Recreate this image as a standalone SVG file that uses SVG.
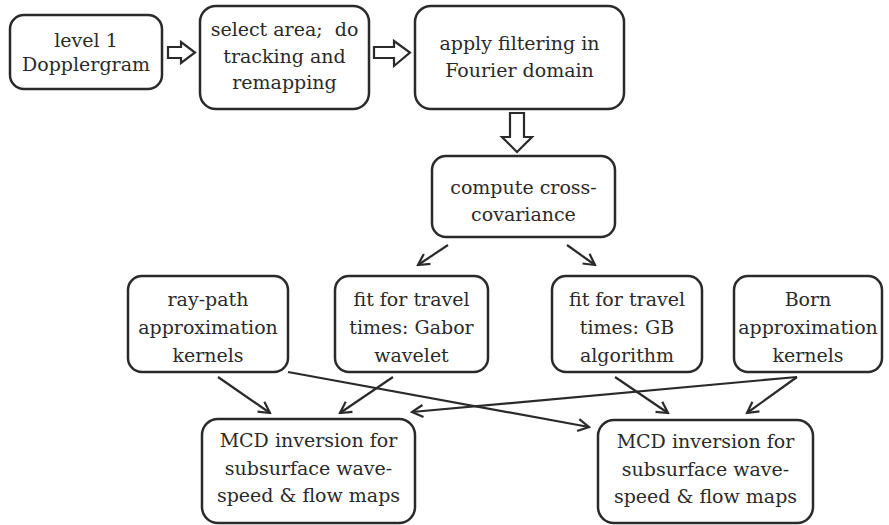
<svg xmlns="http://www.w3.org/2000/svg" width="889" height="525" viewBox="0 0 889 525">
<style>
.box{fill:#fff;stroke:#2a2a2a;stroke-width:2.5}
text{font-family:'DejaVu Serif',serif;font-size:19px;fill:#2a2a2a;text-anchor:middle}
.ln{fill:none;stroke:#2a2a2a;stroke-width:2.2}
.blk{fill:#fff;stroke:#2a2a2a;stroke-width:2.2;stroke-linejoin:miter}
</style>
<defs>
<marker id="v" viewBox="0 0 14 14" refX="12" refY="7" markerWidth="14" markerHeight="14" markerUnits="userSpaceOnUse" orient="auto">
<path d="M1,1 L12,7 L1,13" fill="none" stroke="#2a2a2a" stroke-width="2.2"/>
</marker>
</defs>
<rect width="889" height="525" fill="#fff"/>
<g id="n1"><rect class="box" x="10" y="15" width="152" height="74" rx="14"/>
<text x="86" y="47">level 1</text><text x="86" y="71">Dopplergram</text></g>
<g id="n2"><rect class="box" x="200" y="6" width="169" height="103" rx="16"/>
<text x="284.5" y="36" xml:space="preserve">select area;  do</text><text x="284.5" y="63">tracking and</text><text x="284.5" y="89">remapping</text></g>
<g id="n3"><rect class="box" x="415" y="6" width="209" height="103" rx="16"/>
<text x="519.5" y="50">apply filtering in</text><text x="519.5" y="77">Fourier domain</text></g>
<g id="n4"><rect class="box" x="432" y="156" width="183" height="81" rx="14"/>
<text x="523.5" y="194">compute cross-</text><text x="523.5" y="221">covariance</text></g>
<g id="n5"><rect class="box" x="128" y="276" width="160" height="96" rx="14"/>
<text x="208" y="306">ray-path</text><text x="208" y="334">approximation</text><text x="208" y="362">kernels</text></g>
<g id="n6"><rect class="box" x="335" y="276" width="153" height="96" rx="14"/>
<text x="411.5" y="306">fit for travel</text><text x="411.5" y="334">times: Gabor</text><text x="411.5" y="362">wavelet</text></g>
<g id="n7"><rect class="box" x="552" y="276" width="150" height="96" rx="14"/>
<text x="627" y="306">fit for travel</text><text x="627" y="334">times: GB</text><text x="627" y="362">algorithm</text></g>
<g id="n8"><rect class="box" x="734" y="276" width="148" height="96" rx="14"/>
<text x="808" y="306">Born</text><text x="808" y="334">approximation</text><text x="808" y="362">kernels</text></g>
<g id="n9"><rect class="box" x="202" y="419" width="213" height="104" rx="16"/>
<text x="308.5" y="447">MCD inversion for</text><text x="308.5" y="475">subsurface wave-</text><text x="308.5" y="502">speed &amp; flow maps</text></g>
<g id="n10"><rect class="box" x="598" y="420" width="215" height="103" rx="16"/>
<text x="705.5" y="448">MCD inversion for</text><text x="705.5" y="476">subsurface wave-</text><text x="705.5" y="503">speed &amp; flow maps</text></g>
<g id="connectors">
<path class="blk" d="M168,47 H181 V42 L195,52.5 L181,63 V58 H168 Z"/>
<path class="blk" d="M374,47 H394 V41 L410,52.5 L394,66 V58 H374 Z"/>
<path class="blk" d="M510,113 H524 V137 H532 L517,152 L502,137 H510 Z"/>
<line class="ln" x1="448" y1="245" x2="418" y2="265" marker-end="url(#v)"/>
<line class="ln" x1="567" y1="245" x2="595" y2="265" marker-end="url(#v)"/>
<line class="ln" x1="218" y1="377" x2="270" y2="413" marker-end="url(#v)"/>
<line class="ln" x1="393" y1="377" x2="340" y2="413" marker-end="url(#v)"/>
<line class="ln" x1="288" y1="372" x2="589" y2="427" marker-end="url(#v)"/>
<line class="ln" x1="797" y1="377" x2="412" y2="412" marker-end="url(#v)"/>
<line class="ln" x1="615" y1="377" x2="668" y2="413" marker-end="url(#v)"/>
<line class="ln" x1="797" y1="377" x2="747" y2="413" marker-end="url(#v)"/>
</g>
</svg>
